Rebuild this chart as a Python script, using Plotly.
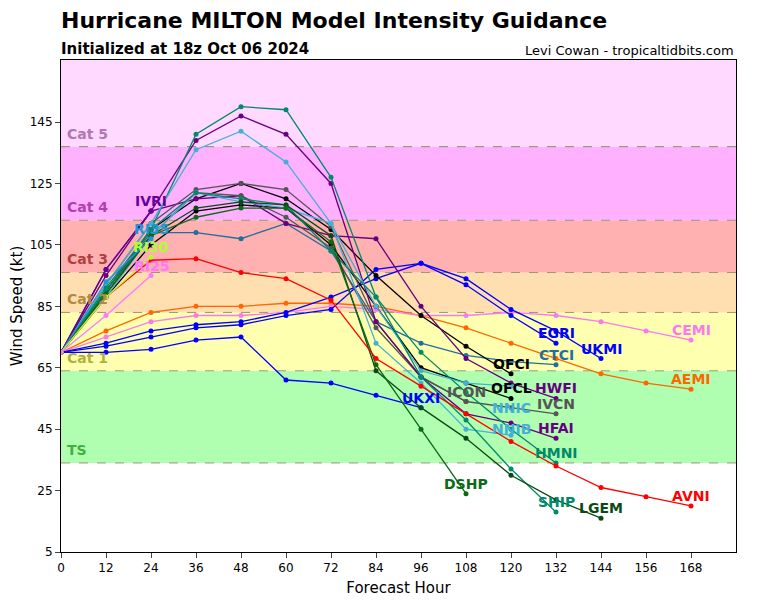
import plotly.graph_objects as go

hours = [0, 12, 24, 36, 48, 60, 72, 84, 96, 108, 120, 132, 144, 156, 168]

AVNI = [70, 88, 100, 100.5, 96, 94, 87, 68, 59, 50, 41, 33, 26, 23, 20]
AEMI = [70, 77, 83, 85, 85, 86, 86, 85, 82, 78, 73, 68, 63, 60, 58]
CEMI = [70, 75, 80, 82, 82, 83, 85, 84, 82, 82, 83, 82, 80, 77, 74]
UKMI = [70, 73, 77, 79, 80, 83, 88, 94, 99, 94, 84, 77, 68]
EGRI = [70, 72, 75, 78, 79, 82, 84, 97, 99, 92, 82, 73]
UKXI = [70, 70, 71, 74, 75, 61, 60, 56, 52]
CTCI = [70, 90, 109, 109, 107, 112, 103, 80, 73, 69, 67, 66]
OFCI = [70, 90, 110, 120, 125, 120, 110, 95, 82, 72, 63]
OFCL = [70, 88, 105, 116, 118, 117, 105, 85, 65, 60, 55]
HWFI = [70, 95, 116, 120, 121, 112, 108, 107, 85, 68, 60, 55]
IVCN = [70, 92, 112, 123, 125, 123, 111, 80, 62, 54, 52, 50]
ICON = [70, 90, 108, 122, 121, 114, 104, 78, 62, 54]
HFAI = [70, 97, 116, 139, 147, 141, 125, 80, 62, 50, 47, 42]
HMNI = [70, 90, 110, 141, 150, 149, 127, 88, 70, 57, 45, 34]
NNIC = [70, 92, 112, 136, 142, 132, 112, 85, 64, 60, 59]
NNIB = [70, 88, 108, 122, 119, 117, 112, 73, 60, 45, 43]
SHIP = [70, 91, 110, 122, 120, 118, 103, 88, 62, 48, 32, 18]
LGEM = [70, 89, 108, 117, 119, 118, 108, 64, 52, 42, 30, 22, 16]
DSHP = [70, 89, 108, 114, 117, 117, 106, 66, 45, 24]
IVRI = [70, 97, 116]
RI35 = [70, 93, 107]
RI30 = [70, 88, 101]
RI25 = [70, 82, 95]

series = [
    ("AEMI", AEMI, "#ff6600"), ("CEMI", CEMI, "#ff77ee"), ("UKMI", UKMI, "#0000ff"),
    ("EGRI", EGRI, "#0000ff"), ("UKXI", UKXI, "#0000ff"), ("CTCI", CTCI, "#1f6fa0"),
    ("OFCI", OFCI, "#000000"), ("OFCL", OFCL, "#000000"), ("HWFI", HWFI, "#660080"),
    ("IVCN", IVCN, "#555555"), ("ICON", ICON, "#555555"), ("HFAI", HFAI, "#660080"),
    ("HMNI", HMNI, "#00896a"), ("NNIC", NNIC, "#44b0d8"), ("NNIB", NNIB, "#44b0d8"),
    ("SHIP", SHIP, "#00896a"), ("LGEM", LGEM, "#0b4a14"), ("DSHP", DSHP, "#0b6a14"),
    ("AVNI", AVNI, "#ff0000"),
    ("IVRI", IVRI, "#660099"), ("RI35", RI35, "#1e96dc"), ("RI30", RI30, "#adff2f"),
    ("RI25", RI25, "#ff77ff"),
]
label_yshift = {"NNIC": -22, "NNIB": 6}

bands = [(5, 34, "#ffffff", None, None), (34, 64, "#b0ffb0", "TS", "#40b040"),
         (64, 83, "#ffffb0", "Cat 1", "#b0b040"), (83, 96, "#ffdeb0", "Cat 2", "#b08a40"),
         (96, 113, "#ffb0b0", "Cat 3", "#b04040"), (113, 137, "#ffb0ff", "Cat 4", "#b040b0"),
         (137, 166, "#ffd9ff", "Cat 5", "#b077b0")]

fig = go.Figure()
shapes, anns = [], []
for lo, hi, col, lab, lc in bands:
    shapes.append(dict(type="rect", xref="x", yref="y", x0=0, x1=180, y0=lo, y1=hi,
                       fillcolor=col, line_width=0, layer="below"))
    if lab:
        shapes.append(dict(type="line", xref="x", yref="y", x0=0, x1=180, y0=lo, y1=lo,
                           line=dict(color="#999977", width=1, dash="dash"), layer="below"))
        anns.append(dict(x=1, y=lo + 1, xref="x", yref="y", text="<b>%s</b>" % lab,
                         showarrow=False, xanchor="left", yanchor="bottom",
                         font=dict(size=14, color=lc)))
shapes.append(dict(type="line", xref="x", yref="y", x0=0, x1=180, y0=137, y1=137,
                   line=dict(color="#999977", width=1, dash="dash"), layer="below"))

for name, vals, col in series:
    fig.add_trace(go.Scatter(x=hours[:len(vals)], y=vals, mode="lines+markers",
                             line=dict(color=col, width=1.3), marker=dict(color=col, size=5),
                             name=name, showlegend=False))
    anns.append(dict(x=hours[len(vals) - 1], y=vals[-1], xref="x", yref="y",
                     text="<b>%s</b>" % name, showarrow=False,
                     yshift=label_yshift.get(name, 10),
                     font=dict(size=14, color=col, family="DejaVu Sans")))

fig.update_layout(
    width=760, height=592, margin=dict(l=53, r=32, t=52, b=48),
    plot_bgcolor="white", paper_bgcolor="white",
    font=dict(family="DejaVu Sans", color="black"),
    shapes=shapes, annotations=anns + [
        dict(x=-0.003, y=1.05, xref="paper", yref="paper", xanchor="left", yanchor="bottom",
             text="<b>Hurricane MILTON Model Intensity Guidance</b>", showarrow=False,
             font=dict(size=22)),
        dict(x=-0.003, y=1.0, xref="paper", yref="paper", xanchor="left", yanchor="bottom",
             text="<b>Initialized at 18z Oct 06 2024</b>", showarrow=False, font=dict(size=15)),
        dict(x=1, y=1.0, xref="paper", yref="paper", xanchor="right", yanchor="bottom",
             text="Levi Cowan - tropicaltidbits.com", showarrow=False, font=dict(size=13)),
    ],
    xaxis=dict(range=[0, 180], tickvals=list(range(0, 169, 12)), showgrid=False,
               showline=True, linecolor="black", mirror=True, ticks="outside",
               automargin=False, title=dict(text="Forecast Hour", font=dict(size=15), standoff=8),
               zeroline=False),
    yaxis=dict(range=[5, 165.2], tickvals=list(range(5, 146, 20)), showgrid=False,
               showline=True, linecolor="black", mirror=True, ticks="outside",
               automargin=False, title=dict(text="Wind Speed (kt)", font=dict(size=15)),
               zeroline=False),
)
fig.write_html("out.html")
